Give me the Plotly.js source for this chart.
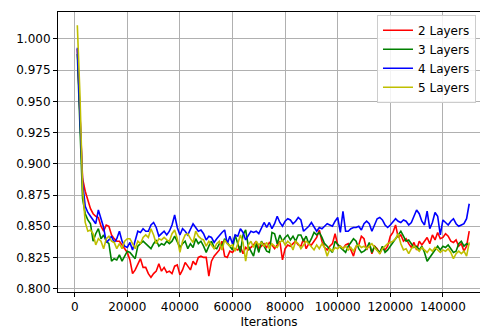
<!DOCTYPE html>
<html>
<head>
<meta charset="utf-8">
<script src="https://cdn.plot.ly/plotly-3.0.1.min.js"></script>
<style>html,body{margin:0;padding:0;background:#fff;}#chart{width:480px;height:329px;}</style>
</head>
<body>
<div id="chart"></div>
<script>
const iterations = [
1000,2000,3000,4000,5000,6000,7000,8000,9000,10000,
11000,12000,13000,14000,15000,16000,17000,18000,19000,20000,
21000,22000,23000,24000,25000,26000,27000,28000,29000,30000,
31000,32000,33000,34000,35000,36000,37000,38000,39000,40000,
41000,42000,43000,44000,45000,46000,47000,48000,49000,50000,
51000,52000,53000,54000,55000,56000,57000,58000,59000,60000,
61000,62000,63000,64000,65000,66000,67000,68000,69000,70000,
71000,72000,73000,74000,75000,76000,77000,78000,79000,80000,
81000,82000,83000,84000,85000,86000,87000,88000,89000,90000,
91000,92000,93000,94000,95000,96000,97000,98000,99000,100000,
101000,102000,103000,104000,105000,106000,107000,108000,109000,110000,
111000,112000,113000,114000,115000,116000,117000,118000,119000,120000,
121000,122000,123000,124000,125000,126000,127000,128000,129000,130000,
131000,132000,133000,134000,135000,136000,137000,138000,139000,140000,
141000,142000,143000,144000,145000,146000,147000,148000,149000,150000];

const seriesNames = ["2 Layers", "3 Layers", "4 Layers", "5 Layers"];

const layers2 = [
0.992,0.935,0.888,0.878,0.871,0.864,0.860,0.858,0.857,0.850,
0.846,0.851,0.850,0.843,0.840,0.838,0.838,0.835,0.832,0.829,
0.823,0.812,0.815,0.819,0.824,0.817,0.817,0.812,0.809,0.812,
0.814,0.820,0.814,0.817,0.813,0.814,0.812,0.818,0.819,0.811,
0.815,0.821,0.818,0.815,0.822,0.819,0.825,0.826,0.825,0.825,
0.810,0.822,0.826,0.829,0.831,0.838,0.826,0.825,0.830,0.829,
0.832,0.831,0.834,0.828,0.833,0.831,0.833,0.835,0.838,0.832,
0.834,0.836,0.833,0.837,0.835,0.832,0.835,0.838,0.823,0.832,
0.835,0.834,0.836,0.838,0.835,0.834,0.840,0.832,0.836,0.835,
0.838,0.841,0.847,0.838,0.833,0.831,0.834,0.836,0.844,0.835,
0.834,0.832,0.835,0.836,0.831,0.826,0.834,0.835,0.842,0.840,
0.831,0.836,0.828,0.834,0.832,0.828,0.833,0.831,0.834,0.842,
0.845,0.851,0.841,0.843,0.838,0.840,0.836,0.833,0.837,0.831,
0.838,0.835,0.838,0.841,0.836,0.843,0.839,0.845,0.840,0.841,
0.844,0.842,0.838,0.837,0.839,0.834,0.836,0.830,0.834,0.846];

const layers3 = [
0.988,0.925,0.872,0.860,0.855,0.852,0.838,0.844,0.848,0.840,
0.843,0.838,0.836,0.822,0.824,0.823,0.827,0.822,0.826,0.830,
0.829,0.826,0.824,0.834,0.836,0.838,0.836,0.834,0.832,0.836,
0.839,0.834,0.836,0.835,0.838,0.836,0.838,0.842,0.837,0.833,
0.836,0.838,0.832,0.836,0.833,0.840,0.836,0.838,0.834,0.829,
0.834,0.838,0.833,0.832,0.836,0.834,0.840,0.837,0.834,0.831,
0.843,0.836,0.829,0.843,0.847,0.834,0.830,0.826,0.836,0.829,
0.838,0.834,0.830,0.829,0.845,0.844,0.836,0.843,0.838,0.841,
0.843,0.839,0.842,0.838,0.843,0.843,0.838,0.842,0.836,0.840,
0.845,0.843,0.845,0.841,0.836,0.834,0.831,0.829,0.838,0.835,
0.833,0.831,0.829,0.834,0.837,0.840,0.838,0.832,0.829,0.830,
0.832,0.837,0.829,0.834,0.831,0.829,0.834,0.829,0.831,0.834,
0.836,0.840,0.843,0.846,0.842,0.838,0.839,0.836,0.833,0.834,
0.831,0.834,0.829,0.822,0.825,0.829,0.832,0.834,0.831,0.834,
0.833,0.835,0.832,0.829,0.830,0.836,0.838,0.834,0.836,0.835];

const layers4 = [
0.993,0.940,0.885,0.866,0.861,0.858,0.855,0.852,0.863,0.856,
0.849,0.837,0.839,0.842,0.837,0.840,0.846,0.838,0.834,0.833,
0.837,0.831,0.838,0.846,0.845,0.848,0.846,0.846,0.851,0.853,
0.849,0.842,0.844,0.846,0.843,0.846,0.851,0.859,0.849,0.843,
0.848,0.846,0.843,0.847,0.852,0.849,0.846,0.847,0.844,0.839,
0.842,0.841,0.837,0.840,0.843,0.845,0.847,0.836,0.842,0.836,
0.843,0.842,0.848,0.845,0.839,0.843,0.846,0.845,0.846,0.844,
0.849,0.853,0.849,0.853,0.848,0.852,0.858,0.853,0.850,0.854,
0.856,0.855,0.852,0.854,0.857,0.855,0.846,0.848,0.850,0.853,
0.850,0.846,0.849,0.848,0.850,0.852,0.851,0.850,0.854,0.857,
0.845,0.862,0.846,0.846,0.848,0.849,0.849,0.850,0.847,0.852,
0.854,0.852,0.846,0.851,0.856,0.857,0.855,0.851,0.849,0.851,
0.854,0.856,0.854,0.853,0.855,0.854,0.851,0.853,0.858,0.863,
0.860,0.854,0.851,0.862,0.848,0.853,0.861,0.858,0.843,0.855,
0.853,0.851,0.854,0.856,0.852,0.850,0.851,0.852,0.856,0.868];

const layers5 = [
1.011,0.955,0.880,0.853,0.846,0.847,0.844,0.835,0.840,0.838,
0.832,0.840,0.842,0.838,0.837,0.832,0.836,0.832,0.838,0.840,
0.840,0.836,0.832,0.838,0.836,0.841,0.843,0.841,0.848,0.843,
0.836,0.840,0.839,0.841,0.839,0.838,0.844,0.847,0.840,0.829,
0.838,0.843,0.844,0.840,0.837,0.846,0.842,0.840,0.839,0.834,
0.838,0.835,0.832,0.836,0.838,0.831,0.839,0.836,0.834,0.835,
0.830,0.836,0.843,0.837,0.822,0.835,0.838,0.833,0.838,0.835,
0.837,0.834,0.837,0.832,0.836,0.834,0.833,0.837,0.839,0.835,
0.838,0.836,0.831,0.838,0.836,0.832,0.835,0.838,0.836,0.833,
0.831,0.835,0.832,0.836,0.833,0.826,0.832,0.830,0.833,0.832,
0.834,0.832,0.834,0.831,0.833,0.830,0.834,0.835,0.833,0.834,
0.832,0.834,0.836,0.833,0.830,0.828,0.832,0.834,0.836,0.837,
0.838,0.840,0.844,0.836,0.831,0.832,0.828,0.832,0.834,0.832,
0.830,0.833,0.831,0.829,0.832,0.830,0.833,0.831,0.829,0.831,
0.830,0.832,0.829,0.824,0.828,0.830,0.828,0.830,0.826,0.837];

const xTicks = [0,20000,40000,60000,80000,100000,120000,140000];
const yTicks = [0.800,0.825,0.850,0.875,0.900,0.925,0.950,0.975,1.000];

const allSeries = [layers2, layers3, layers4, layers5];
const colors = ["#ff0000", "#008000", "#0000ff", "#bfbf00"];

const traces = allSeries.map((ys, i) => ({
  type: "scatter", mode: "lines", x: iterations, y: ys, name: seriesNames[i],
  line: {color: colors[i], width: 1.6}
}));

const font = {family: "DejaVu Sans, sans-serif", size: 12, color: "#000"};

const layout = {
  width: 480, height: 329,
  margin: {l: 58, r: 0, t: 12, b: 37},
  paper_bgcolor: "#fff", plot_bgcolor: "#fff",
  font: font,
  showlegend: true,
  legend: {
    x: 0.9905, xanchor: "right", y: 0.99, yanchor: "top",
    bgcolor: "rgba(255,255,255,0.85)", bordercolor: "#cccccc", borderwidth: 1,
    font: {family: "DejaVu Sans, sans-serif", size: 12, color: "#000"},
    itemwidth: 30, tracegroupgap: 0
  },
  xaxis: {
    range: [-6350, 154100],
    tickvals: xTicks, ticktext: xTicks.map(v => String(v)),
    ticks: "outside", ticklen: 4, tickwidth: 1, tickcolor: "#000",
    showline: true, linecolor: "#000", linewidth: 1, mirror: true,
    showgrid: true, gridcolor: "#b0b0b0", gridwidth: 1,
    zeroline: false,
    title: {text: "Iterations", font: font, standoff: 5}
  },
  yaxis: {
    range: [0.7973, 1.0216],
    tickvals: yTicks, ticktext: yTicks.map(v => v.toFixed(3)),
    ticks: "outside", ticklen: 4, tickwidth: 1, tickcolor: "#000",
    showline: true, linecolor: "#000", linewidth: 1, mirror: false,
    showgrid: true, gridcolor: "#b0b0b0", gridwidth: 1,
    zeroline: false
  },
  hovermode: false
};

Plotly.newPlot("chart", traces, layout, {displayModeBar: false, staticPlot: true});
</script>
</body>
</html>
